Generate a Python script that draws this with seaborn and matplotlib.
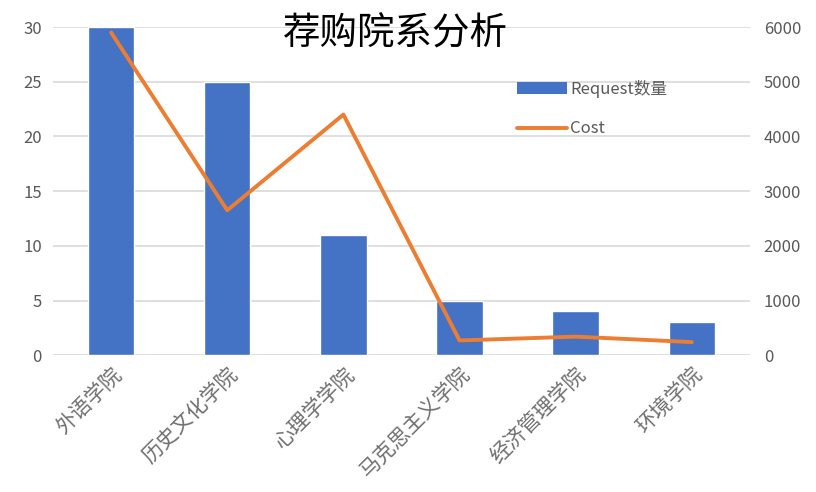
import matplotlib
matplotlib.use("Agg")
import matplotlib.pyplot as plt
import seaborn as sns
import pandas as pd
from matplotlib.patches import Patch
from matplotlib.lines import Line2D

# data
departments = ["外语学院", "历史文化学院", "心理学学院", "马克思主义学院", "经济管理学院", "环境学院"]
requests = [30, 25, 11, 5, 4, 3]
costs = [5900, 2650, 4400, 270, 340, 240]

BAR_COLOR = "#4472C4"
LINE_COLOR = "#ED7D31"
TEXT_GRAY = "#595959"
GRID_GRAY = "#D9D9D9"

sns.set_style("white")
plt.rcParams["font.family"] = ["Noto Sans CJK SC", "DejaVu Sans"]

df = pd.DataFrame({"dept": departments, "requests": requests, "cost": costs})

fig = plt.figure(figsize=(8.16, 4.92), dpi=100)
ax = fig.add_axes([0.065, 0.278, 0.854, 0.667])
ax2 = ax.twinx()

sns.barplot(data=df, x="dept", y="requests", color=BAR_COLOR, width=0.4,
            saturation=1, ax=ax, zorder=2)
sns.lineplot(data=df, x="dept", y="cost", color=LINE_COLOR, linewidth=2.8,
             sort=False, ax=ax2)

ax.set_ylim(0, 30)
ax.set_yticks(range(0, 31, 5))
ax2.set_ylim(0, 6000)
ax2.set_yticks(range(0, 6001, 1000))
ax.set_xlim(-0.5, len(departments) - 0.5)

ax.yaxis.grid(True, color=GRID_GRAY, linewidth=1.2)
ax.set_axisbelow(True)
for a in (ax, ax2):
    for s in a.spines.values():
        s.set_visible(False)
    a.set_xlabel("")
    a.set_ylabel("")
    a.tick_params(length=0, colors=TEXT_GRAY, labelsize=12)

ax.tick_params(axis="y", pad=8)
ax2.tick_params(axis="y", pad=10)
ax.set_xticks(range(len(departments)))
ax.set_xticklabels(departments, rotation=45, ha="right", rotation_mode="anchor",
                   fontsize=15, color="#6f6f6f")
ax.tick_params(axis="x", pad=6)

handles = [Patch(facecolor=BAR_COLOR, edgecolor="none"),
           Line2D([0], [0], color=LINE_COLOR, linewidth=2.8)]
fig.legend(handles, ["Request数量", "Cost"], loc="upper left",
           bbox_to_anchor=(0.615, 0.868), frameon=False, fontsize=12,
           labelcolor=TEXT_GRAY, handlelength=3.0, handletextpad=0.2,
           labelspacing=1.35)

fig.text(0.485, 0.93, "荐购院系分析", ha="center", va="center", fontsize=27,
         color="black")

fig.savefig("out.png", dpi=100)
